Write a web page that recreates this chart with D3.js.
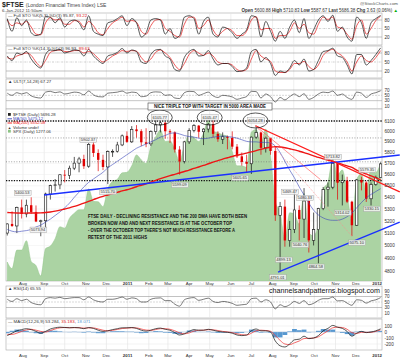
<!DOCTYPE html>
<html><head><meta charset="utf-8">
<script src="https://cdn.jsdelivr.net/npm/d3@7/dist/d3.min.js"></script>
<style>html,body{margin:0;padding:0;background:#fff;}svg{display:block;font-family:"Liberation Sans",Arial,Helvetica,sans-serif;}</style>
</head><body>
<svg id="chart" width="400" height="359"></svg>
<script>
// ---------------- DATA (weekly samples) ----------------
const ftseOpen = [5100,5175,5158,5313,5258,5332,5275,5195,5201,5428,
 5501,5508,5598,5592,5657,5703,5741,5675,5875,5796,
 5733,5668,5808,5812,5871,5957,5900,6019,6002,5896,
 5881,5997,6062,6083,6001,5990,5828,5718,5900,6009,
 6055,5996,6022,6069,5976,5925,5948,5938,5855,5765,
 5714,5697,5945,5990,5844,5935,5815,5247,5320,5040,
 5130,5292,5215,5368,5041,5128,5303,5466,5488,5702,
 5527,5545,5362,5164,5552,5529,5387,5512,5572];
const ftseHigh = [5180,5280,5320,5380,5380,5400,5330,5210,5440,5510,
 5560,5600,5640,5680,5760,5760,5780,5890,5902,5830,
 5780,5820,5830,5900,5970,6000,6050,6060,6020,6030,
 6010,6106,6100,6090,6020,6000,5860,5910,6030,6070,
 6060,6030,6080,6106,6000,5990,5960,6000,5880,5800,
 5780,5950,6054,5995,5950,5940,5860,5360,5380,5200,
 5470,5330,5480,5400,5270,5310,5490,5530,5713,5710,
 5600,5580,5370,5560,5580,5540,5530,5590,5710];
const ftseLow = [5080,5150,5100,5220,5230,5260,5190,5074,5140,5380,
 5450,5470,5530,5560,5640,5620,5650,5660,5760,5630,
 5640,5515,5760,5800,5860,5890,5890,5940,5860,5850,
 5860,5970,5990,5930,5890,5800,5599,5700,5880,5990,
 5940,5870,5990,5940,5900,5880,5830,5830,5750,5680,
 5620,5605,5930,5780,5800,5780,5200,4791,4990,4990,
 5100,5040,5060,4944,5000,4860,5290,5320,5470,5380,
 5330,5350,5075,5160,5460,5360,5330,5500,5570];
const ftseClose = [5175,5158,5313,5258,5332,5275,5195,5201,5428,5501,
 5508,5598,5592,5657,5703,5741,5675,5875,5796,5733,
 5668,5808,5812,5871,5957,5900,6019,6002,5896,5881,
 5997,6062,6083,6001,5990,5828,5718,5900,6009,6055,
 5996,6022,6069,5976,5925,5948,5938,5855,5765,5714,
 5697,5945,5990,5844,5935,5815,5247,5320,5040,5130,
 5292,5215,5368,5041,5128,5303,5466,5488,5702,5527,
 5545,5362,5164,5552,5529,5387,5512,5572,5696];
const spxClose = [1078,1065,1102,1102,1121,1079,1071,1050,1105,1110,
 1125,1149,1146,1166,1176,1183,1183,1225,1200,1199,
 1189,1225,1240,1244,1257,1258,1271,1293,1283,1276,
 1310,1329,1343,1320,1321,1304,1279,1313,1332,1328,
 1320,1337,1363,1340,1338,1333,1331,1300,1271,1271,
 1268,1339,1344,1316,1345,1292,1199,1178,1123,1177,
 1174,1154,1216,1136,1131,1155,1224,1238,1285,1253,
 1263,1216,1159,1244,1255,1219,1265,1258,1277];
const ma50 = [5130,5115,5110,5115,5120,5130,5150,5165,5190,5215,
 5245,5275,5310,5350,5400,5445,5490,5530,5560,5590,
 5620,5660,5690,5720,5750,5780,5810,5840,5860,5880,
 5900,5920,5945,5960,5980,5985,5975,5960,5950,5945,
 5935,5930,5935,5945,5950,5955,5950,5945,5935,5920,
 5905,5900,5900,5895,5895,5890,5860,5800,5720,5640,
 5570,5490,5420,5350,5290,5250,5225,5210,5205,5205,
 5215,5235,5265,5310,5355,5395,5425,5450,5475];
const ma200 = [5270,5268,5266,5265,5265,5266,5266,5267,5270,5275,
 5282,5290,5300,5310,5322,5335,5350,5365,5380,5395,
 5408,5420,5432,5443,5455,5465,5478,5492,5505,5518,
 5532,5548,5563,5577,5590,5602,5614,5627,5640,5655,
 5668,5682,5697,5712,5726,5740,5752,5764,5775,5785,
 5795,5806,5818,5830,5841,5850,5855,5852,5845,5835,
 5825,5812,5800,5785,5770,5755,5742,5730,5718,5705,
 5692,5678,5664,5640,5622,5605,5588,5570,5552];
const sto5K = [85,40,88,60,80,35,25,30,92,90, 70,88,55,75,80,70,45,95,40,30,
 25,70,75,85,95,60,85,70,20,35, 80,85,80,30,50,15,25,90,95,85,
 30,75,90,30,20,55,50,35,15,30, 45,95,90,20,75,40,5,40,15,55,
 80,35,85,15,45,80,95,75,97,40, 55,20,5,90,70,15,70,85,96];
const sto5D = [80,60,70,65,75,55,30,28,70,88, 80,82,65,65,78,75,55,75,60,35,
 28,50,70,80,90,75,78,72,40,30, 60,80,82,50,40,25,20,65,90,90,
 50,60,80,45,25,40,50,42,25,25, 40,80,92,45,50,50,15,25,25,40,
 70,50,65,35,30,65,90,82,90,55, 50,30,12,60,80,30,50,78,93];
const sto14K = [70,55,80,75,85,60,40,30,75,90, 88,92,80,85,90,88,70,92,70,55,
 45,70,75,82,95,80,90,85,50,45, 75,90,92,70,60,25,20,65,85,92,
 70,72,88,60,40,45,45,35,18,20, 30,85,92,50,65,45,5,20,15,30,
 55,40,60,20,25,55,85,88,96,70, 65,40,10,75,75,40,55,75,97];
const sto14D = [65,60,70,75,80,72,50,35,55,82, 88,90,85,84,88,88,80,85,78,62,
 50,58,70,78,88,85,88,86,65,50, 60,82,90,80,65,40,25,45,75,88,
 80,72,80,70,50,45,45,40,25,20, 25,60,88,70,60,52,20,15,15,25,
 45,45,52,35,25,40,72,86,92,80, 70,50,20,50,70,55,50,65,88];
const ultValues = [58,50,60,55,60,48,42,40,62,65, 60,63,55,58,62,60,52,66,52,45,
 44,58,60,62,66,58,62,60,45,47, 60,63,62,50,52,40,38,60,65,64,
 50,56,62,48,42,50,48,44,35,40, 45,65,64,40,55,45,25,42,33,45,
 55,45,56,35,42,55,62,60,66,50, 55,42,35,62,58,42,55,60,67];
const rsiValues = [60,52,62,55,60,48,42,40,62,66, 64,67,62,64,66,66,58,68,58,52,
 50,60,60,63,68,60,65,62,50,50, 60,64,65,55,55,42,35,58,64,66,
 56,60,64,52,48,52,50,45,38,40, 42,62,64,50,58,50,25,40,33,40,
 52,45,55,40,45,56,62,62,68,54, 55,46,38,58,56,46,54,58,66];
const macdLine = [-60,-20,20,40,55,40,10,-20,10,50, 70,80,75,70,75,70,55,75,60,30,
 10,20,40,55,70,70,75,60,30,15, 30,55,65,45,30,-10,-50,-30,10,40,
 30,30,45,30,10,0,-5,-20,-50,-60, -50,20,50,20,20,0,-150,-230,-250,-200,
 -130,-120,-70,-110,-100,-60,20,60,110,80, 60,10,-70,-20,10,-10,0,20,53];
const macdSignal = [-40,-40,-20,10,35,45,30,10,0,25, 50,70,75,72,72,72,65,68,68,50,
 30,20,28,42,58,65,70,68,50,32, 28,40,55,55,45,20,-15,-30,-15,15,
 28,30,38,36,25,10,2,-10,-30,-45, -50,-20,20,30,25,12,-60,-140,-200,-210,
 -180,-150,-110,-105,-100,-80,-30,20,70,80, 75,45,-10,-25,-5,-5,-5,10,35];
const macdHist = [-20,20,40,30,20,-5,-20,-30,10,25, 20,10,0,-2,3,-2,-10,7,-8,-20,
 -20,0,12,13,12,5,5,-8,-20,-17, 2,15,10,-10,-15,-30,-35,0,25,25,
 2,0,7,-6,-15,-10,-7,-10,-20,-15, 0,40,30,-10,-5,-12,-90,-90,-50,10,
 50,30,40,-5,0,20,50,40,40,0, -15,-35,-60,5,15,-5,5,10,18];

const monthLabels = ["Aug","Sep","Oct","Nov","Dec","2011","Feb","Mar","Apr","May","Jun","Jul","Aug","Sep","Oct","Nov","Dec","2012"];
const priceTicks = [4800,4900,5000,5100,5200,5300,5400,5500,5600,5700,5800,5900,6000,6100];
const stoTicks = [80,50,20];
const ultTicks = [70,50,30,10];
const rsiTicks = [90,70,50,30,10];
const macdTicks = [100,0,-100,-200];

const levelLines = [{value:6100,kind:"major"},{value:5937,kind:"minor"},{value:5715,kind:"minor"},{value:5545,kind:"major"}];
const trendLines = [
 {d1:"2010-09-01",v1:5420,d2:"2012-02-03",v2:5777,kind:"support"},
 {d1:"2011-08-09",v1:4791,d2:"2012-02-03",v2:5190,kind:"support"},
 {d1:"2011-07-07",v1:6054,d2:"2012-02-03",v2:5446,kind:"resistance"},
 {d1:"2011-07-07",v1:6054,d2:"2011-10-10",v2:5555,kind:"fan"},
 {d1:"2011-07-07",v1:6054,d2:"2011-11-25",v2:5075,kind:"fanDotted"}
];
const priceNotes = [
 {text:"5400.53",date:"2010-07-31",value:5437},
 {text:"5073.94",date:"2010-08-23",value:5126},
 {text:"5902.37",date:"2010-11-04",value:5918},
 {text:"5515.70",date:"2010-12-03",value:5446},
 {text:"6105.77",date:"2011-02-17",value:6134},
 {text:"6105.47",date:"2011-05-01",value:6134},
 {text:"6054.28",date:"2011-07-07",value:6105},
 {text:"5599.09",date:"2011-03-18",value:5507},
 {text:"5605.65",date:"2011-06-14",value:5569},
 {text:"5713.82",date:"2011-10-28",value:5759},
 {text:"5579.35",date:"2011-12-17",value:5641},
 {text:"5469.47",date:"2011-08-26",value:5446},
 {text:"5480.33",date:"2011-09-17",value:5393},
 {text:"5040.76",date:"2011-09-10",value:5004},
 {text:"4899.13",date:"2011-08-17",value:4886},
 {text:"4791.01",date:"2011-08-08",value:4752},
 {text:"4864.58",date:"2011-10-03",value:4832},
 {text:"5075.10",date:"2011-12-02",value:5021},
 {text:"5314.02",date:"2011-11-11",value:5267},
 {text:"5330.15",date:"2011-12-24",value:5300}
];
const topCircles = [
 {date:"2011-02-17",value:6134},
 {date:"2011-05-01",value:6134},
 {date:"2011-07-07",value:6105}
];
const noteLines = [
 "FTSE DAILY - DECLINING RESISTANCE AND THE 200 DMA HAVE BOTH BEEN",
 "BROKEN NOW AND AND NEXT RESISTANCE IS AT THE OCTOBER TOP",
 "- OVER THE OCTOBER TOP THERE'S NOT MUCH RESISTANCE BEFORE A",
 "RETEST OF THE 2011 HIGHS"
];

// ---------------- LAYOUT ----------------
const svg = d3.select("#chart");
const parse = d3.timeParse("%Y-%m-%d");
const weeks = d3.timeFriday.range(new Date(2010,6,9), new Date(2012,0,7));
const monthStarts = d3.timeMonth.range(new Date(2010,7,1), new Date(2012,0,2));
const L = 6, R = 382;
const x = d3.scaleTime().domain([new Date(2010,7,1), new Date(2012,0,1)]).range([23, 377.2]);
const P = {
  sto5:{top:13,bottom:45}, sto14:{top:46,bottom:78}, ult:{top:79,bottom:109},
  main:{top:109,bottom:281}, rsi:{top:286,bottom:318}, macd:{top:319,bottom:350}
};
const yP = d3.scaleLog().domain([4800,6100]).range([271,121]);
const ySpx = d3.scaleLinear().domain([1040,1363]).range([281,120]);
const ySto5 = d3.scaleLinear().domain([20,80]).range([37,20]);
const ySto14 = d3.scaleLinear().domain([20,80]).range([71,53]);
const yUlt = d3.scaleLinear().domain([10,70]).range([106,90]);
const yRsi = d3.scaleLinear().domain([10,90]).range([313,291]);
const yMacd = d3.scaleLinear().domain([-200,100]).range([344,326]);

const defs = svg.append("defs");
function makePanel(name, p){
  svg.append("rect").attr("x",L).attr("y",p.top).attr("width",R-L).attr("height",p.bottom-p.top)
    .attr("fill","#fff").attr("stroke","#a8a8a8").attr("stroke-width",0.6);
  defs.append("clipPath").attr("id","clip-"+name).append("rect")
    .attr("x",L).attr("y",p.top).attr("width",R-L).attr("height",p.bottom-p.top);
  const g = svg.append("g").attr("clip-path","url(#clip-"+name+")");
  g.selectAll("line.vg").data(monthStarts).join("line").attr("class","vg")
    .attr("x1",d=>x(d)).attr("x2",d=>x(d)).attr("y1",p.top).attr("y2",p.bottom)
    .attr("stroke","#e3e3e3").attr("stroke-width",0.6);
  return g;
}
function rightLabels(ticks, scale){
  svg.append("g").selectAll("text").data(ticks).join("text")
    .attr("x",384.5).attr("y",d=>scale(d)+1.6).attr("font-size",4.6).attr("fill","#333").text(d=>d);
}
function hLines(g, ticks, scale, color, dash, w){
  g.selectAll(null).data(ticks).join("line")
    .attr("x1",L).attr("x2",R).attr("y1",d=>scale(d)).attr("y2",d=>scale(d))
    .attr("stroke",color).attr("stroke-width",w||0.6).attr("stroke-dasharray",dash||null);
}
function series(g, values, scale, color, w){
  g.append("path").datum(values)
    .attr("d", d3.line().x((d,i)=>x(weeks[i])).y(d=>scale(d)).curve(d3.curveMonotoneX))
    .attr("fill","none").attr("stroke",color).attr("stroke-width",w);
}
function legend(yb, parts){
  const t = svg.append("text").attr("x",8).attr("y",yb).attr("font-size",4.4).attr("fill","#333");
  parts.forEach(p=>t.append("tspan").attr("fill",p[1]||"#333").attr("font-weight",p[2]||null).text(p[0]));
}

// ---------------- HEADER ----------------
const h1 = svg.append("text").attr("x",2).attr("y",6.5).attr("fill","#222");
h1.append("tspan").attr("font-size",7).attr("font-weight","bold").text("$FTSE ");
h1.append("tspan").attr("font-size",5).attr("fill","#444").text("(London Financial Times Index) LSE");
svg.append("text").attr("x",2).attr("y",12).attr("font-size",4.4).attr("fill","#444").text("6-Jan-2012 11:50am");
svg.append("text").attr("x",398).attr("y",5).attr("font-size",4.4).attr("fill","#555").attr("text-anchor","end").text("@StockCharts.com");
const h2 = svg.append("text").attr("x",398).attr("y",11.5).attr("font-size",4.5).attr("fill","#333").attr("text-anchor","end");
[["Open","b"],[" 5600.88  "],["High","b"],[" 5710.83  "],["Low","b"],[" 5587.67  "],["Last","b"],[" 5686.38  "],["Chg","b"],[" 3.63 (0.06%) "]]
  .forEach(p=>h2.append("tspan").attr("font-weight",p[1]?"bold":null).text(p[0]));
h2.append("tspan").attr("fill","#0a0").text("\u25B2");

// ---------------- STO 5 ----------------
const g1 = makePanel("sto5", P.sto5);
hLines(g1,[80,20],ySto5,"#9a9a9a");
hLines(g1,[50],ySto5,"#b0b0b0","2,1,0.6,1");
series(g1, sto5D, ySto5, "#e83030", 0.8);
series(g1, sto5K, ySto5, "#111", 0.7);
rightLabels(stoTicks, ySto5);
legend(17.2, [["\u2014 Full STO %K(5,3) %D(3) 95.87, "],["93.22","#e02020"]]);

// ---------------- STO 14 ----------------
const g2 = makePanel("sto14", P.sto14);
hLines(g2,[80,20],ySto14,"#9a9a9a");
hLines(g2,[50],ySto14,"#b0b0b0","2,1,0.6,1");
series(g2, sto14D, ySto14, "#e83030", 0.8);
series(g2, sto14K, ySto14, "#111", 0.7);
rightLabels(stoTicks, ySto14);
legend(50.2, [["\u2014 Full STO %K(14,3) %D(3) 96.93, "],["89.63","#e02020"]]);

// ---------------- ULT ----------------
const g3 = makePanel("ult", P.ult);
hLines(g3,[70,30],yUlt,"#a0a0a0");
hLines(g3,[50],yUlt,"#c0c0c0","2,1");
series(g3, ultValues, yUlt, "#222", 0.6);
rightLabels(ultTicks, yUlt);
legend(83.4, [["\u25B2 ULT(7,14,28) 67.27"]]);

// ---------------- MAIN ----------------
const gm = makePanel("main", P.main);
hLines(gm, priceTicks, yP, "#ececec", null, 0.5);
gm.append("path").datum(spxClose)
  .attr("d", d3.area().x((d,i)=>x(weeks[i])).y0(P.main.bottom).y1(d=>ySpx(d)).curve(d3.curveMonotoneX))
  .attr("fill","#abd3a3").attr("stroke","#94c68c").attr("stroke-width",0.5);
levelLines.forEach(l=>{
  gm.append("line").attr("x1",L).attr("x2",R).attr("y1",yP(l.value)).attr("y2",yP(l.value))
    .attr("stroke", l.kind==="major"?"#111":"#777")
    .attr("stroke-width", l.kind==="major"?1.3:0.7)
    .attr("stroke-dasharray", l.kind==="major"?"1.3,1.3":"1,1.6");
});
const cg = gm.append("g");
weeks.forEach((d,i)=>{
  const up = ftseClose[i] >= ftseOpen[i];
  const col = up ? "#111" : "#e00000";
  const cx = x(d);
  cg.append("line").attr("x1",cx).attr("x2",cx).attr("y1",yP(ftseHigh[i])).attr("y2",yP(ftseLow[i]))
    .attr("stroke",col).attr("stroke-width",0.7);
  const yt = yP(Math.max(ftseOpen[i],ftseClose[i])), yb = yP(Math.min(ftseOpen[i],ftseClose[i]));
  cg.append("rect").attr("x",cx-1.2).attr("width",2.4).attr("y",yt).attr("height",Math.max(0.8,yb-yt))
    .attr("fill",up?"#fff":col).attr("stroke",col).attr("stroke-width",up?0.6:0);
});
series(gm, ma50, yP, "#3b46b8", 0.6);
series(gm, ma200, yP, "#ee1515", 1.4);
defs.append("clipPath").attr("id","clip-trend").append("rect")
  .attr("x",L).attr("y",P.main.top).attr("width",400-L).attr("height",P.main.bottom-P.main.top);
const tg = svg.append("g").attr("clip-path","url(#clip-trend)");
const trendStyle = {
  support:{c:"#1a2fff",w:1.4,d:null}, resistance:{c:"#ff1c1c",w:1.3,d:null},
  fan:{c:"#ff4a4a",w:0.6,d:null}, fanDotted:{c:"#ff8a8a",w:0.6,d:"1.2,1"}
};
trendLines.forEach(t=>{
  const s = trendStyle[t.kind];
  tg.append("line").attr("x1",x(parse(t.d1))).attr("y1",yP(t.v1)).attr("x2",x(parse(t.d2))).attr("y2",yP(t.v2))
    .attr("stroke",s.c).attr("stroke-width",s.w).attr("stroke-dasharray",s.d);
});
const ng = svg.append("g");
priceNotes.forEach(n=>{
  const cx = x(parse(n.date)), cy = yP(n.value);
  const t = ng.append("text").attr("x",cx).attr("y",cy+1.4).attr("text-anchor","middle")
    .attr("font-size",4).attr("fill","#333").text(n.text);
  const bb = t.node().getBBox();
  ng.insert("rect","text").attr("x",bb.x-0.8).attr("y",bb.y-0.2).attr("width",bb.width+1.6).attr("height",bb.height+0.4)
    .attr("fill","#f2f2f2").attr("fill-opacity",0.85).attr("stroke","#9a9a9a").attr("stroke-width",0.4);
});
svg.selectAll("ellipse.top").data(topCircles).join("ellipse").attr("class","top")
  .attr("cx",d=>x(parse(d.date))).attr("cy",d=>yP(d.value)).attr("rx",12.5).attr("ry",7.5)
  .attr("fill","none").attr("stroke","#111").attr("stroke-width",0.7);
const lg = svg.append("g").attr("font-size",4.2).attr("fill","#333");
const legItems = [
  {y:116,text:"$FTSE (Daily) 5696.28",icon:"sq",c:"#222"},
  {y:120.2,text:"MA(50) 5475.12",icon:"ln",c:"#3b46b8"},
  {y:124.4,text:"MA(200) 5552.08",icon:"ln",c:"#ee1515"},
  {y:128.6,text:"Volume undef",icon:"tri",c:"#333"},
  {y:132.8,text:"SPX (Daily) 1277.06",icon:"sq",c:"#8cc484"}
];
legItems.forEach(it=>{
  if(it.icon==="sq") lg.append("rect").attr("x",8).attr("y",it.y-3).attr("width",2.8).attr("height",2.8).attr("fill",it.c);
  else if(it.icon==="ln") lg.append("line").attr("x1",7.5).attr("x2",12).attr("y1",it.y-1.4).attr("y2",it.y-1.4).attr("stroke",it.c).attr("stroke-width",0.9);
  else lg.append("text").attr("x",7.8).attr("y",it.y).attr("font-size",3.6).text("\u25B2");
  lg.append("text").attr("x",13).attr("y",it.y).attr("fill",it.icon==="ln"?it.c:"#333").text(it.text);
});
rightLabels(priceTicks, yP);
const noteLen = [159,144,147,59];
noteLines.forEach((s,i)=>{
  svg.append("text").attr("x",88).attr("y",218+i*7).attr("font-size",5).attr("font-weight","bold")
    .attr("fill","#111").attr("textLength",noteLen[i]).attr("lengthAdjust","spacingAndGlyphs").text(s);
});
svg.append("rect").attr("x",148).attr("y",103).attr("width",124).attr("height",7)
  .attr("fill","#fff").attr("stroke","#444").attr("stroke-width",0.6);
svg.append("text").attr("x",210).attr("y",108.3).attr("text-anchor","middle").attr("font-size",4.6)
  .attr("font-weight","bold").attr("fill","#111").attr("textLength",112).attr("lengthAdjust","spacingAndGlyphs")
  .text("NICE TRIPLE TOP WITH TARGET IN 5000 AREA MADE");

function monthAxis(yb){
  svg.append("g").selectAll("text").data(monthStarts).join("text")
    .attr("x",d=>x(d)).attr("y",yb).attr("text-anchor","middle").attr("font-size",4.4)
    .attr("fill","#333").attr("font-weight",(d,i)=>monthLabels[i].length===4?"bold":null)
    .text((d,i)=>monthLabels[i]);
}
monthAxis(284.8);

// ---------------- RSI ----------------
const g4 = makePanel("rsi", P.rsi);
hLines(g4,[70,30],yRsi,"#999");
hLines(g4,[50],yRsi,"#c0c0c0","2,1");
series(g4, rsiValues, yRsi, "#222", 0.6);
rightLabels(rsiTicks, yRsi);
legend(290.4, [["\u25B2 RSI(14) 65.55"]]);

// ---------------- MACD ----------------
const g5 = makePanel("macd", P.macd);
hLines(g5, macdTicks, yMacd, "#e4e4e4", null, 0.5);
g5.selectAll("rect.h").data(macdHist).join("rect").attr("class","h")
  .attr("x",(d,i)=>x(weeks[i])-2.4).attr("width",4.8)
  .attr("y",d=>Math.min(yMacd(d),yMacd(0))).attr("height",d=>Math.abs(yMacd(d)-yMacd(0)))
  .attr("fill","#3a86c8").attr("fill-opacity",0.85);
hLines(g5,[0],yMacd,"#9fb8d8",null,0.5);
series(g5, macdSignal, yMacd, "#ee4040", 0.8);
series(g5, macdLine, yMacd, "#111", 0.7);
rightLabels(macdTicks, yMacd);
legend(323.4, [["\u2014 MACD(12,26,9) 53.284, "],["35.183","#e02020"],[", "],["18.071","#5a9ad0"]]);
monthAxis(357);

// watermark
svg.append("text").attr("x",269).attr("y",292.8).attr("font-size",7.4).attr("fill","#111")
  .attr("textLength",111).attr("lengthAdjust","spacingAndGlyphs").text("channelsandpatterns.blogspot.com");
</script>
</body></html>
